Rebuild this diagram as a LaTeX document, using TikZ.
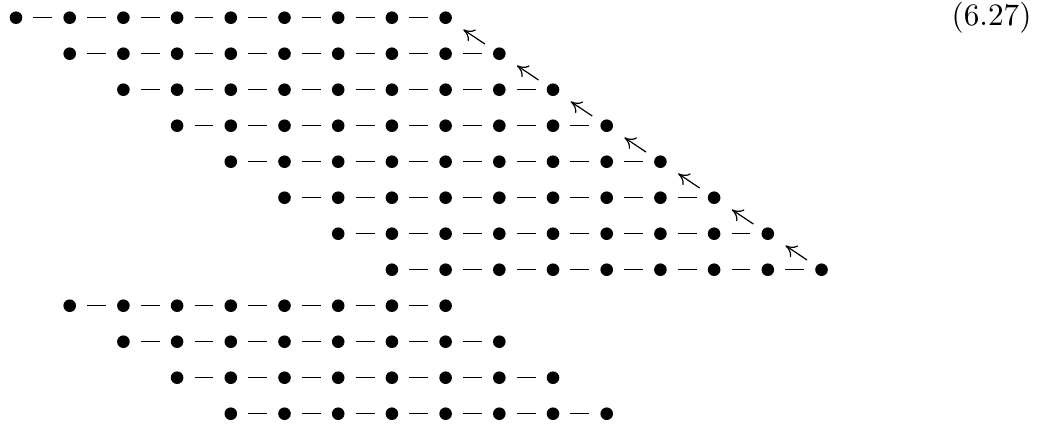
\documentclass[tikz,border=0pt]{standalone}
\usetikzlibrary{arrows.meta}
\begin{document}
\begin{tikzpicture}[x=0.3333pt,y=-0.3333pt,
  dot/.style={circle,fill=black,inner sep=0pt,minimum size=4.2pt},
  link/.style={line width=0.45pt,shorten >=3.5pt,shorten <=3.5pt},
  arr/.style={line width=0.4pt,-{To[length=3.6pt,width=4.6pt]},shorten <=3.5pt,shorten >=4.8pt}]
\useasboundingbox (0,0) rectangle (1039,423);
% upper staircase
\foreach \i in {0,...,7}{
  \foreach \j in {0,...,8}{
    \node[dot] (a\i-\j) at ({16+53.7*(\i+\j)},{17.7+36*\i}) {};
  }
  \foreach \j in {1,...,8}{
    \pgfmathtruncatemacro\k{\j-1}
    \draw[link] (a\i-\k) -- (a\i-\j);
  }
}
\foreach \i in {0,...,6}{
  \pgfmathtruncatemacro\n{\i+1}
  \draw[arr] (a\n-8) -- (a\i-8);
}
% lower rows
\foreach \r in {0,...,3}{
  \foreach \j in {0,...,7}{
    \node[dot] (b\r-\j) at ({16+53.7*(\r+1+\j)},{17.7+36*(8+\r)}) {};
  }
  \foreach \j in {1,...,7}{
    \pgfmathtruncatemacro\k{\j-1}
    \draw[link] (b\r-\k) -- (b\r-\j);
  }
}
\node[inner sep=0pt,scale=1.04] (eq) at (991.5,18) {(6.27)};
\end{tikzpicture}
\end{document}
